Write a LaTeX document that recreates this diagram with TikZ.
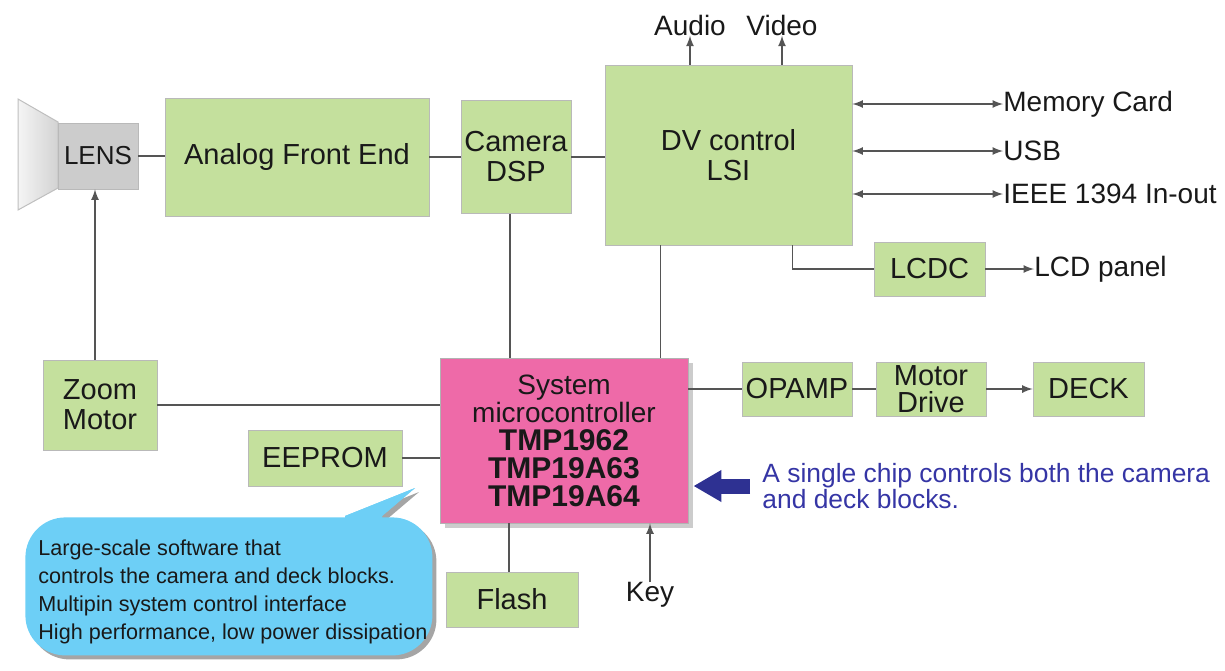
\documentclass[tikz,border=0pt]{standalone}
\usepackage{fontspec}
\setmainfont{Liberation Sans}
\usepackage{tikz}
\usetikzlibrary{shapes}
\usetikzlibrary{arrows}
\usetikzlibrary{arrows.meta}
\usetikzlibrary{positioning}
\usetikzlibrary{shadows}

\definecolor{boxgreen}{HTML}{C4E09D}
\definecolor{chippink}{HTML}{EE6AA8}
\definecolor{callblue}{HTML}{6DCFF6}
\definecolor{navy}{HTML}{2E3192}
\definecolor{notetext}{HTML}{3535A5}
\definecolor{wire}{HTML}{555555}

\newcommand{\partno}[1]{{\fontsize{15}{14}\selectfont\bfseries #1}}

\tikzset{
  blk/.style={draw=gray!55, fill=boxgreen, align=center, inner sep=0pt,
    font=\fontsize{14.5}{15}\selectfont, text=black!90},
  chip/.style={draw=gray!60, fill=chippink, align=center, inner sep=0pt,
    drop shadow={shadow xshift=2.5pt, shadow yshift=-2.5pt, fill=gray!80}},
  lbl/.style={inner sep=0pt, font=\fontsize{14}{15}\selectfont, text=black!90},
  wr/.style={draw=wire, line width=0.8pt},
  callout/.style={fill=callblue, rounded corners=20pt, inner sep=0pt,
    drop shadow={shadow xshift=2pt, shadow yshift=-2pt, fill=black!70}}
}

\begin{document}
\begin{tikzpicture}[x=0.5pt,y=-0.5pt]
  \useasboundingbox (0,0) rectangle (1225,670);

  % lens horn
  \shade[left color=gray!8, right color=gray!35, draw=gray!50, line width=0.5pt]
    (18,99) -- (58,122) -- (58,188) -- (18,210) -- cycle;
  \node[blk, fill=gray!40, draw=gray!55, minimum width=40pt, minimum height=33pt,
    font=\fontsize{13}{15}\selectfont] (lens) at (98,156) {LENS};

  % camera chain
  \node[blk, minimum width=132pt, minimum height=59pt] (afe) at (297,157) {Analog Front End};
  \node[blk, minimum width=55pt, minimum height=56.5pt] (dsp) at (516,157) {Camera\\DSP};
  \node[blk, minimum width=123.5pt, minimum height=90pt] (dv) at (728.5,155) {DV control\\LSI};
  \node[blk, minimum width=55.5pt, minimum height=27pt] (lcdc) at (929.5,269) {LCDC};

  \node[lbl] (audio) at (690,25) {Audio};
  \node[lbl] (video) at (782,25) {Video};
  \node[lbl, anchor=west] (mem) at (1003,104) {Memory Card};
  \node[lbl, anchor=west] (usb) at (1003,151) {USB};
  \node[lbl, anchor=west] (ieee) at (1003,194) {IEEE 1394 In-out};
  \node[lbl, anchor=west] (lcdp) at (1034,269) {LCD panel};

  % control side
  \node[blk, minimum width=57pt, minimum height=45pt] (zoom) at (100,405) {Zoom\\Motor};
  \node[blk, minimum width=77pt, minimum height=28pt] (eeprom) at (325,458) {EEPROM};
  \node[chip, minimum width=124pt, minimum height=82.5pt] (mcu) at (564,440.5) {};
  \node[align=center, inner sep=0pt, text=black!90, font=\fontsize{14}{14}\selectfont]
    (mcutext) at (564,441) {System\\microcontroller\\
    \partno{TMP1962}\\\partno{TMP19A63}\\\partno{TMP19A64}};
  \node[blk, minimum width=55pt, minimum height=27pt] (opamp) at (797,389) {OPAMP};
  \node[blk, minimum width=55pt, minimum height=27pt, font=\fontsize{14.5}{13.5}\selectfont]
    (mdrive) at (931,389) {Motor\\Drive};
  \node[blk, minimum width=55.5pt, minimum height=27pt] (deck) at (1088.5,389) {DECK};
  \node[blk, minimum width=66pt, minimum height=27.5pt] (flash) at (512,599.5) {Flash};
  \node[lbl] (key) at (650,595) {Key};

  % callout
  \fill[callblue, drop shadow={shadow xshift=2pt, shadow yshift=-2pt, fill=black!70}]
    (345,530) -- (345,516) -- (415,488) -- (382,516) -- (382,530) -- cycle;
  \node[callout, minimum width=203.5pt, minimum height=69pt, anchor=north west] (callbox) at (25,517) {};
  \fill[callblue] (345,530) -- (345,516) -- (415,488) -- (382,516) -- (382,530) -- cycle;
  \node[anchor=north west, align=left, inner sep=0pt, text=black!90,
    font=\fontsize{10.8}{14}\selectfont] (calltext) at (38,539)
    {Large-scale software that\\controls the camera and deck blocks.\\Multipin system control interface\\High performance, low power dissipation};

  % note
  \node[anchor=west, align=left, inner sep=0pt, text=notetext,
    font=\fontsize{13.2}{13}\selectfont] (note) at (762,486)
    {A single chip controls both the camera\\and deck blocks.};
  \draw[navy, line width=7.5pt, -{Triangle[length=14pt, width=15pt]}, shorten >=2.5pt]
    ([xshift=-6pt]note.west) -- (note.west -| mcu.east);

  % wires
  \draw[wr] (lens.east) -- (lens.east -| afe.west);
  \draw[wr] (afe.east) -- (afe.east -| dsp.west);
  \draw[wr] (dsp.east) -- (dsp.east -| dv.west);
  \draw[wr, -latex] (dv.north -| audio.south) -- (audio.south);
  \draw[wr, -latex] (dv.north -| video.south) -- (video.south);
  \draw[wr, latex-latex] (dv.east |- mem.west) -- (mem.west);
  \draw[wr, latex-latex] (dv.east |- usb.west) -- (usb.west);
  \draw[wr, latex-latex] (dv.east |- ieee.west) -- (ieee.west);
  \draw[wr] ([xshift=-30pt]dv.south east) |- (lcdc.west);
  \draw[wr, -latex] (lcdc.east) -- (lcdc.east -| lcdp.west);
  \coordinate (zup) at ([xshift=-2.5pt]zoom.north);
  \draw[wr, -latex] (zup) -- (zup |- lens.south);
  \draw[wr] (zoom.east) -- (zoom.east -| mcu.west);
  \draw[wr] (eeprom.east) -- (eeprom.east -| mcu.west);
  \coordinate (dspdn) at ([xshift=-3pt]dsp.south);
  \draw[wr] (dspdn) -- (dspdn |- mcu.north);
  \coordinate (up) at ([xshift=-14pt]mcu.north east);
  \draw[wr] (up) -- (up |- dv.south);
  \draw[wr] (opamp.west -| mcu.east) -- (opamp.west);
  \draw[wr] (opamp.east) -- (mdrive.west);
  \draw[wr, -latex] (mdrive.east) -- (deck.west);
  \coordinate (fup) at ([xshift=-1.5pt]flash.north);
  \draw[wr] (fup) -- (fup |- mcu.south);
  \draw[wr, -latex] (key.north) -- (key.north |- mcu.south);
\end{tikzpicture}
\end{document}
